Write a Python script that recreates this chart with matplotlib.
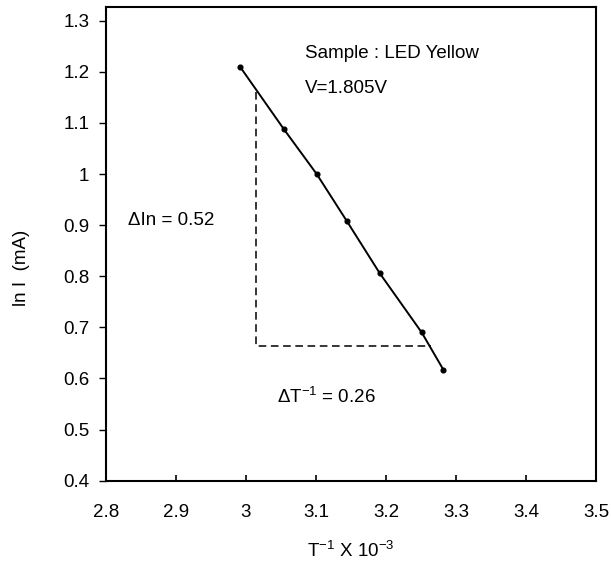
import matplotlib
matplotlib.use("Agg")
import matplotlib.pyplot as plt

plt.rcParams['font.family'] = ['Liberation Sans', 'DejaVu Sans']
plt.rcParams['mathtext.fontset'] = 'custom'
plt.rcParams['mathtext.rm'] = 'Liberation Sans'
plt.rcParams['mathtext.it'] = 'Liberation Sans'

# data
inv_t = [2.992, 3.054, 3.101, 3.144, 3.191, 3.251, 3.282]
ln_i = [1.209, 1.088, 1.000, 0.908, 0.806, 0.690, 0.617]

# slope triangle
tri_x = [3.014, 3.014, 3.264]
tri_y = [1.161, 0.664, 0.664]

x_ticks = [2.8, 2.9, 3.0, 3.1, 3.2, 3.3, 3.4, 3.5]
x_labels = ["2.8", "2.9", "3", "3.1", "3.2", "3.3", "3.4", "3.5"]
y_ticks = [0.4, 0.5, 0.6, 0.7, 0.8, 0.9, 1.0, 1.1, 1.2, 1.3]
y_labels = ["0.4", "0.5", "0.6", "0.7", "0.8", "0.9", "1", "1.1", "1.2", "1.3"]

fs = 13.5

fig = plt.figure(figsize=(6.11, 5.64), dpi=100)
ax = fig.add_axes([0.1735, 0.1477, 0.802, 0.8403])

ax.plot(inv_t, ln_i, color='black', lw=1.4, marker='o', ms=3.4)
ax.plot(tri_x, tri_y, color='black', lw=1.1, ls=(0, (5, 3)))

ax.set_xlim(2.8, 3.5)
ax.set_ylim(0.4, 1.3274)
ax.set_xticks(x_ticks)
ax.set_xticklabels(x_labels)
ax.set_yticks(y_ticks)
ax.set_yticklabels(y_labels)

ax.tick_params(axis='x', direction='in', length=4.5, width=1.2, pad=17, labelsize=fs)
ax.tick_params(axis='y', direction='out', length=5, width=1.0, pad=7, labelsize=fs)
for s in ax.spines.values():
    s.set_linewidth(1.5)

ax.text(3.084, 1.235, "Sample : LED Yellow", fontsize=fs, va='center', ha='left')
ax.text(3.084, 1.168, "V=1.805V", fontsize=fs, va='center', ha='left')
ax.text(2.831, 0.909, "\u0394In = 0.52", fontsize=fs, va='center', ha='left')
ax.text(3.044, 0.563, r"$\Delta$T$^{-1}$ = 0.26", fontsize=fs, va='center', ha='left')

ax.set_xlabel(r"T$^{-1}$ X 10$^{-3}$", fontsize=fs, labelpad=14)
fig.text(22 / 611, 1 - 268 / 564, "ln I  (mA)", rotation=90, fontsize=fs,
         ha='center', va='center')

fig.savefig("out.png", dpi=100)
